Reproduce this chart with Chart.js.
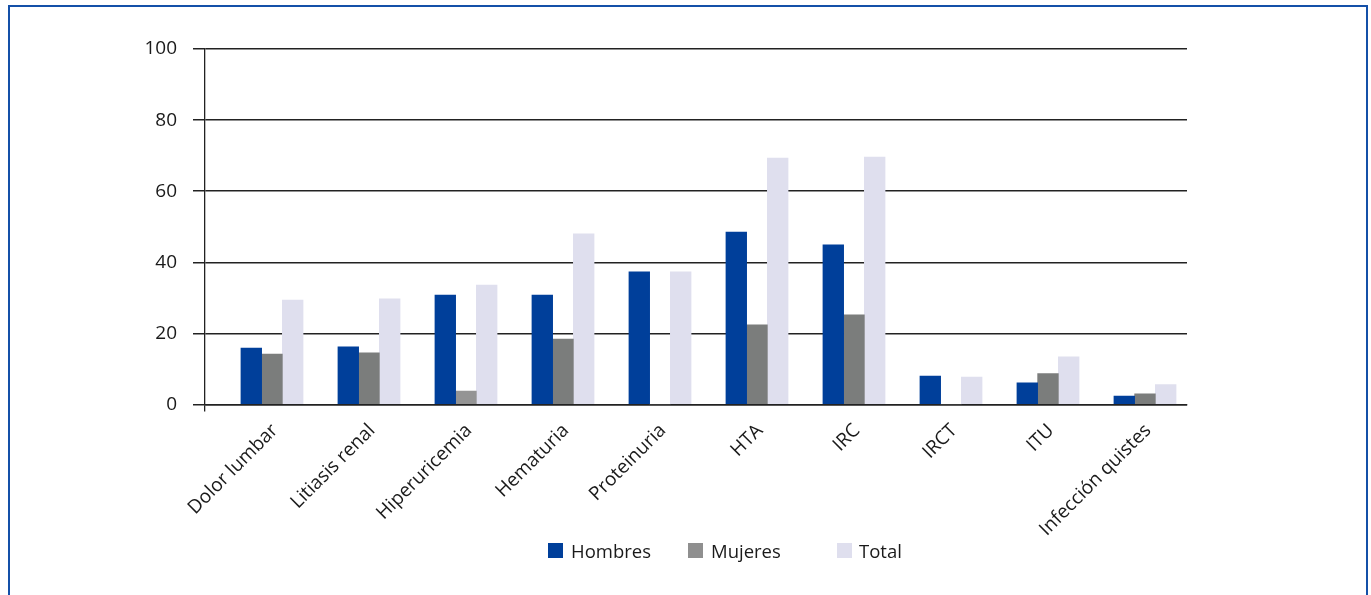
<!DOCTYPE html>
<html lang="es">
<head>
<meta charset="utf-8">
<title>Manifestaciones clínicas por sexo</title>
<script src="https://cdn.jsdelivr.net/npm/chart.js@4.4.1/dist/chart.umd.min.js"></script>
<style>
  html, body { margin: 0; padding: 0; background: #fff; overflow: hidden; }
  #wrap { position: relative; width: 1371px; height: 595px; }
  #frame {
    position: absolute; left: 8px; top: 5px; width: 1356px; height: 700px;
    border: 2px solid #1450a8; box-sizing: content-box;
  }
  #chart { position: absolute; left: 0; top: 0; }
  .legend { position: absolute; top: 0; left: 0; font-family: "Open Sans", sans-serif;
            font-size: 18.5px; color: #1a1a1a; }
  .legend .sw { position: absolute; width: 15px; height: 15px; top: 543px; }
  .legend .tx { position: absolute; top: 538px; line-height: 25px; white-space: nowrap; }
</style>
</head>
<body>
<div id="wrap">
  <div id="frame"></div>
  <canvas id="chart" width="1371" height="595"></canvas>
  <div class="legend" id="legend"></div>
</div>
<script>
// Categories and percentages per group
const categories = ['Dolor lumbar', 'Litiasis renal', 'Hiperuricemia', 'Hematuria', 'Proteinuria',
                    'HTA', 'IRC', 'IRCT', 'ITU', 'Infección quistes'];
const hombres = [15.9, 16.2, 30.8, 30.8, 37.3, 48.5, 44.9, 8.0, 6.1, 2.4];
const mujeres = [14.2, 14.5, 3.8, 18.4, 0, 22.4, 25.2, 0, 8.7, 3.0];
const total   = [29.4, 29.7, 33.6, 48.0, 37.3, 69.3, 69.6, 7.7, 13.4, 5.6];
const seriesNames = ['Hombres', 'Mujeres', 'Total'];
const yTicks = [0, 20, 40, 60, 80, 100];

const BLUE = '#003f9a';
const GREY = '#7b7d7c';
const GREY_LIGHT = '#949494';
const LAV = '#dfdfee';
const INK = '#1a1a1a';
const LINE = '#222222';

const asPoints = arr => arr.map((v, i) => ({ x: i, y: v }));

// x positions of the groups run on a numeric axis so the group bands sit where
// they belong inside the framed plot
const X_MIN = -0.6907;
const X_MAX = 9.433;
const BAR_W = 20.7;

const font = { family: '"Open Sans", sans-serif', size: 19 };

const chart = new Chart(document.getElementById('chart'), {
  type: 'bar',
  data: {
    datasets: [
      { label: seriesNames[0], data: asPoints(hombres), backgroundColor: BLUE },
      { label: seriesNames[1], data: asPoints(mujeres),
        backgroundColor: mujeres.map((v, i) => i === 2 ? GREY_LIGHT : GREY) },
      { label: seriesNames[2], data: asPoints(total), backgroundColor: LAV }
    ]
  },
  options: {
    responsive: false,
    animation: false,
    events: [],
    barThickness: BAR_W,
    layout: { padding: { top: 49, right: 184, bottom: 0, left: 0 } },
    plugins: { legend: { display: false }, tooltip: { enabled: false } },
    scales: {
      x: {
        type: 'linear',
        min: X_MIN,
        max: X_MAX,
        offset: false,
        afterBuildTicks: s => { s.ticks = [X_MIN, ...categories.map((c, i) => i)].map(v => ({ value: v })); },
        afterFit: s => { s.height = 190.5; },
        grid: {
          offset: false,
          drawOnChartArea: false,
          drawTicks: true,
          tickLength: 7,
          lineWidth: 1.3,
          color: ctx => ctx.index === 0 ? LINE : 'rgba(0,0,0,0)'
        },
        border: { display: true, color: LINE, width: 1.5 },
        ticks: {
          autoSkip: false,
          maxRotation: 45,
          minRotation: 45,
          padding: 8,
          labelOffset: 3,
          color: INK,
          font: font,
          callback: v => Number.isInteger(v) && categories[v] !== undefined ? categories[v] : ''
        }
      },
      y: {
        min: 0,
        max: 100,
        afterBuildTicks: s => { s.ticks = yTicks.map(v => ({ value: v })); },
        afterFit: s => { s.width = 205; },
        grid: { color: LINE, lineWidth: 1.5, tickLength: 12 },
        border: { display: true, color: LINE, width: 1.3 },
        ticks: { padding: 16, color: INK, font: font }
      }
    }
  }
});

// legend row below the plot
const legendItems = [
  { sw: 548, tx: 571, color: BLUE },
  { sw: 688, tx: 711, color: '#8f8f8f' },
  { sw: 837, tx: 859, color: LAV }
];
const lg = document.getElementById('legend');
seriesNames.forEach((name, i) => {
  const s = document.createElement('div');
  s.className = 'sw';
  s.style.left = legendItems[i].sw + 'px';
  s.style.background = legendItems[i].color;
  const t = document.createElement('div');
  t.className = 'tx';
  t.style.left = legendItems[i].tx + 'px';
  t.textContent = name;
  lg.appendChild(s);
  lg.appendChild(t);
});
</script>
</body>
</html>
